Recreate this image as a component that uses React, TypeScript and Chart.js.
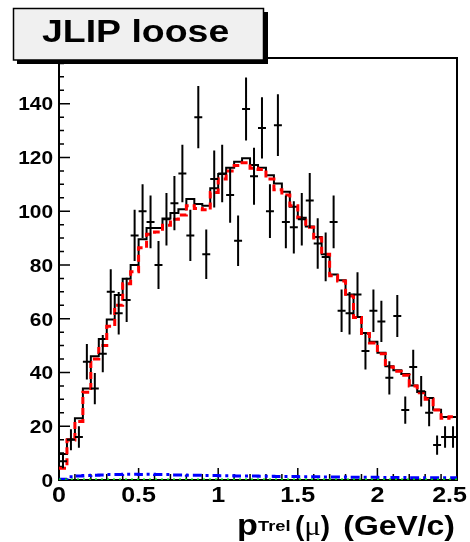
import React, { useEffect, useRef } from 'react';
import { Chart, registerables } from 'chart.js';

Chart.register(...registerables);

// ---- axis ranges / binning ----
const X_MIN = 0;
const X_MAX = 2.5;
const BIN_WIDTH = 0.05;
const Y_MIN = 0;
const Y_MAX = 157;
const X_TICK_STEP = 0.5;
const Y_TICK_STEP = 20;

const titleText = 'JLIP loose';
const xTickLabels = ['0', '0.5', '1', '1.5', '2', '2.5'];
const yTickLabels = ['0', '20', '40', '60', '80', '100', '120', '140'];

// ---- data (50 bins, 0 .. 2.5 GeV/c) ----
const dataCounts = [
  7, 15, 16, 44, 34, 47, 70, 62, 67, 91,
  100, 96, 80, 97, 103, 114, 91, 135, 84, 112,
  114, 106, 89, 138, 113, 131, 100, 132, 96, 94,
  97, 104, 88, 83, 96, 63, 62, 69, 48, 63,
  59, 38, 61, 26, 42, 33, 25, 13, 16, 16,
];
const dataErrors = [
  2.6, 3.9, 4.0, 6.6, 5.8, 6.9, 8.4, 7.9, 8.2, 9.5,
  10.0, 9.8, 8.9, 9.8, 10.1, 10.7, 9.5, 11.6, 9.2, 10.6,
  10.7, 10.3, 9.4, 11.7, 10.6, 11.4, 10.0, 11.5, 9.8, 9.7,
  9.8, 10.2, 9.4, 9.1, 9.8, 7.9, 7.9, 8.3, 6.9, 7.9,
  7.7, 6.2, 7.8, 5.1, 6.5, 5.7, 5.0, 3.6, 4.0, 4.0,
];
const mcTotal = [
  9.7, 15.2, 23, 34, 46, 52.5, 59.7, 68.8, 74.9, 80,
  89.6, 93.8, 93.8, 97.3, 99.3, 100.7, 104.5, 102.7, 102, 108.5,
  113.8, 116.2, 118.4, 119.7, 117.2, 116.2, 113.4, 110.3, 107.2, 101.7,
  97.6, 94.3, 90.4, 84, 76.5, 74.3, 69, 60.6, 54.7, 51.4,
  47.3, 42.3, 40.8, 39.4, 35.2, 32.7, 30.5, 26.1, 23.4, 23.4,
];
const mcFit = [
  4.4, 14.9, 21.8, 32.6, 45, 50, 57.2, 65, 73, 77.5,
  86.4, 91.4, 92.3, 94.8, 97, 98.6, 102, 101, 100.5, 107,
  112, 115, 117, 118, 116, 115.5, 112, 108, 106, 102,
  97.6, 94, 90, 84, 76, 74, 68.5, 60.5, 54.5, 51,
  47, 42, 40.5, 39, 35, 32.5, 30, 26, 23, 23.5,
];
const mcBackground = [
  0.3, 1.2, 1.5, 1.7, 1.8, 1.9, 2.0, 2.0, 2.1, 2.1,
  2.0, 2.1, 2.0, 2.0, 1.9, 1.9, 1.8, 1.8, 1.7, 1.7,
  1.6, 1.6, 1.5, 1.5, 1.5, 1.4, 1.4, 1.3, 1.3, 1.3,
  1.2, 1.2, 1.2, 1.1, 1.1, 1.1, 1.0, 1.0, 1.0, 1.0,
  0.9, 0.9, 0.9, 0.9, 0.8, 0.8, 0.8, 0.8, 0.8, 0.8,
];
const zeroLine = [0, 0];

const binLeft = (i: number) => X_MIN + i * BIN_WIDTH;

function stepPoints(values: number[]) {
  const pts = values.map((v, i) => ({ x: binLeft(i), y: v }));
  pts.push({ x: binLeft(values.length), y: values[values.length - 1] });
  return pts;
}

function errorBarPoints() {
  const h: { x: number; y: number | null }[] = [];
  const v: { x: number; y: number | null }[] = [];
  dataCounts.forEach((n, i) => {
    const c = binLeft(i) + BIN_WIDTH / 2;
    const e = dataErrors[i];
    h.push({ x: binLeft(i), y: n }, { x: binLeft(i + 1), y: n }, { x: binLeft(i + 1), y: null });
    v.push({ x: c, y: n - e }, { x: c, y: n + e }, { x: c, y: null });
  });
  return { h, v };
}

const FONT = '"Liberation Sans", Arial, Helvetica, sans-serif';

function drawText(
  ctx: CanvasRenderingContext2D,
  text: string,
  font: string,
  x: number,
  y: number,
  sx: number,
  align: 'left' | 'right' | 'center',
  maxRight?: number
) {
  ctx.save();
  ctx.font = font;
  ctx.textAlign = 'left';
  ctx.textBaseline = 'alphabetic';
  const w = ctx.measureText(text).width * sx;
  let x0 = align === 'left' ? x : align === 'right' ? x - w : x - w / 2;
  if (maxRight !== undefined && x0 + w > maxRight) x0 = maxRight - w;
  ctx.translate(x0, y);
  ctx.scale(sx, 1);
  ctx.fillStyle = '#000';
  ctx.fillText(text, 0, 0);
  ctx.restore();
  return w;
}

const rootStyle = {
  id: 'rootStyle',
  beforeDatasetsDraw(chart: any) {
    const ctx: CanvasRenderingContext2D = chart.ctx;
    const { left, right, top, bottom } = chart.chartArea;
    const xs = chart.scales.x;
    const ys = chart.scales.y;
    ctx.save();
    ctx.strokeStyle = '#000';
    ctx.lineWidth = 2;
    ctx.strokeRect(left, top, right - left, bottom - top);
    // inward ticks
    ctx.lineWidth = 1.5;
    ctx.beginPath();
    for (let k = 0; k <= 25; k++) {
      const px = xs.getPixelForValue(k * 0.1);
      const len = k % 5 === 0 ? 12 : 6;
      ctx.moveTo(px, bottom);
      ctx.lineTo(px, bottom - len);
    }
    for (let k = 0; k * 5 <= Y_MAX; k++) {
      const py = ys.getPixelForValue(k * 5);
      const len = k % 4 === 0 ? 11 : 5;
      ctx.moveTo(left, py);
      ctx.lineTo(left + len, py);
    }
    ctx.stroke();
    ctx.restore();
  },
  afterDraw(chart: any) {
    const ctx: CanvasRenderingContext2D = chart.ctx;
    const { left, bottom } = chart.chartArea;
    const xs = chart.scales.x;
    const ys = chart.scales.y;
    // y tick labels
    ys.ticks.forEach((t: any, i: number) => {
      const py = ys.getPixelForValue(t.value);
      drawText(ctx, yTickLabels[i] ?? String(t.value), `bold 19px ${FONT}`, left - 6, py + 6.8, 1.1, 'right');
    });
    // x tick labels
    xs.ticks.forEach((t: any, i: number) => {
      const px = xs.getPixelForValue(t.value);
      drawText(ctx, xTickLabels[i] ?? String(t.value), `bold 22px ${FONT}`, px, bottom + 21.5, 1.14, 'center', 467);
    });
    // x axis title
    drawText(ctx, 'p', `bold 30px ${FONT}`, 237, 535, 1.14, 'left');
    drawText(ctx, 'Trel', `bold 15px ${FONT}`, 258, 531, 1.22, 'left');
    let cx = 295;
    cx += drawText(ctx, '(', `bold 28px ${FONT}`, cx, 535, 1.0, 'left');
    cx += drawText(ctx, 'μ', `28px "Liberation Serif", "DejaVu Serif", serif`, cx, 535, 1.1, 'left');
    drawText(ctx, ')', `bold 28px ${FONT}`, cx, 535, 1.0, 'left');
    drawText(ctx, '(GeV/c)', `bold 28px ${FONT}`, 455, 535, 1.14, 'right');

    // title box
    ctx.save();
    ctx.fillStyle = '#000';
    ctx.fillRect(17, 12, 251, 52);
    ctx.fillStyle = '#f0f0f0';
    ctx.fillRect(13.5, 8.5, 250, 51.5);
    ctx.strokeStyle = '#000';
    ctx.lineWidth = 1.5;
    ctx.strokeRect(13.5, 8.5, 250, 51.5);
    ctx.restore();
    drawText(ctx, titleText, `bold 32px ${FONT}`, 42, 41.5, 1.17, 'left');
  },
};

export default function App() {
  const ref = useRef<HTMLCanvasElement>(null);
  useEffect(() => {
    const canvas = ref.current;
    if (!canvas) return;
    const bars = errorBarPoints();
    const chart = new Chart(canvas, {
      type: 'line',
      data: {
        datasets: [
          {
            label: 'zero',
            data: [
              { x: X_MIN, y: zeroLine[0] },
              { x: X_MAX, y: zeroLine[1] },
            ],
            borderColor: '#00cc00',
            borderWidth: 3,
            borderDash: [2, 4],
            pointRadius: 0,
          },
          {
            label: 'data-x',
            data: bars.h as any,
            borderColor: '#000',
            borderWidth: 2,
            pointRadius: 0,
            spanGaps: false,
          },
          {
            label: 'data-y',
            data: bars.v as any,
            borderColor: '#000',
            borderWidth: 2,
            pointRadius: 0,
            spanGaps: false,
          },
          {
            label: 'fit',
            data: stepPoints(mcFit),
            borderColor: '#ff0000',
            borderWidth: 3,
            borderDash: [7, 4],
            stepped: true,
            pointRadius: 0,
          },
          {
            label: 'total',
            data: stepPoints(mcTotal),
            borderColor: '#000',
            borderWidth: 2,
            stepped: true,
            pointRadius: 0,
          },
          {
            label: 'background',
            data: stepPoints(mcBackground),
            borderColor: '#0000ff',
            borderWidth: 3,
            borderDash: [9, 4, 3, 4],
            stepped: true,
            pointRadius: 0,
          },
        ],
      },
      options: {
        responsive: false,
        animation: false,
        devicePixelRatio: 1,
        events: [],
        layout: { padding: { top: 58, right: 13, left: 0, bottom: 0 } },
        plugins: { legend: { display: false }, tooltip: { enabled: false }, title: { display: false } },
        scales: {
          x: {
            type: 'linear',
            min: X_MIN,
            max: X_MAX,
            ticks: { stepSize: X_TICK_STEP, display: false },
            grid: { display: false, drawTicks: false },
            border: { display: false },
            afterFit: (s: any) => {
              s.height = 62;
              s.paddingLeft = 0;
              s.paddingRight = 0;
            },
          },
          y: {
            type: 'linear',
            min: Y_MIN,
            max: Y_MAX,
            ticks: { stepSize: Y_TICK_STEP, display: false, includeBounds: false },
            grid: { display: false, drawTicks: false },
            border: { display: false },
            afterFit: (s: any) => {
              s.width = 59;
              s.paddingTop = 0;
              s.paddingBottom = 0;
            },
          },
        },
      } as any,
      plugins: [rootStyle],
    });
    return () => chart.destroy();
  }, []);
  return (
    <div style={{ position: 'fixed', left: 0, top: 0, width: 470, height: 542, background: '#fff' }}>
      <canvas ref={ref} width={470} height={542} style={{ display: 'block', width: 470, height: 542 }} />
    </div>
  );
}
